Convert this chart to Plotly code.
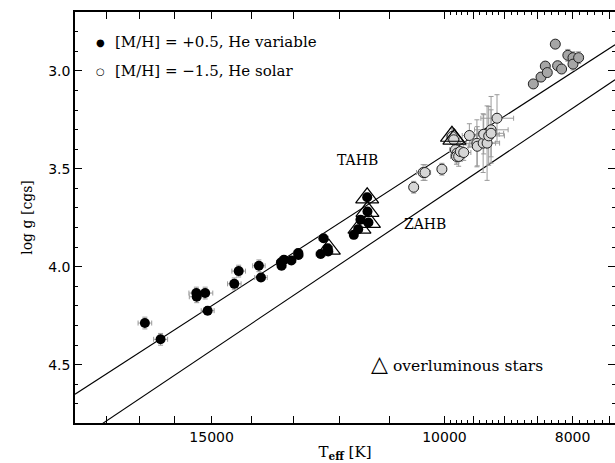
import numpy as np
import plotly.graph_objects as go

# ---------------- data ----------------
# [M/H] = +0.5, He variable (filled)
filled_T = [16850, 16395, 15405, 15395, 15170, 15105, 14420, 14310, 13815, 13765,
            13295, 13280, 13225, 13055, 12900, 12895, 12405, 12345, 12255, 12245,
            11710, 11620, 11575, 11440, 11435, 11415]
filled_g = [4.287, 4.370, 4.134, 4.153, 4.134, 4.224, 4.087, 4.022, 3.995, 4.055,
            3.978, 3.995, 3.964, 3.968, 3.930, 3.940, 3.935, 3.854, 3.905, 3.922,
            3.837, 3.808, 3.760, 3.645, 3.718, 3.774]
filled_dT = [200, 200, 200, 200, 200, 170, 170, 170, 150, 150,
             100, 100, 100, 100, 100, 100, 100, 100, 100, 100,
             80, 80, 80, 80, 80, 80]
filled_dg = [0.03, 0.03, 0.03, 0.03, 0.03, 0.02, 0.03, 0.03, 0.03, 0.02,
             0.02, 0.02, 0.02, 0.02, 0.02, 0.02, 0.02, 0.02, 0.02, 0.02,
             0.02, 0.02, 0.02, 0.02, 0.02, 0.02]

# [M/H] = -1.5, He solar (open) - middle group
open_T = [10550, 10378, 10344, 10044, 9867, 9840, 9811, 9782, 9793, 9755, 9726,
          9670, 9575, 9450, 9444, 9348, 9339, 9284, 9258, 9220, 9220, 9125]
open_g = [3.594, 3.519, 3.519, 3.502, 3.335, 3.352, 3.403, 3.420, 3.437, 3.437, 3.412,
          3.417, 3.330, 3.370, 3.385, 3.369, 3.324, 3.369, 3.332, 3.301, 3.319, 3.242]
open_dT = [80, 120, 100, 80, 100, 100, 100, 100, 100, 100, 120,
           120, 120, 180, 150, 200, 250, 200, 250, 270, 200, 260]
open_dg = [0.03, 0.04, 0.04, 0.03, 0.04, 0.05, 0.04, 0.05, 0.04, 0.05, 0.05,
           0.04, 0.06, 0.12, 0.10, 0.15, 0.10, 0.19, 0.15, 0.17, 0.12, 0.12]

# [M/H] = -1.5, He solar - cool group
cool_T = [8566, 8452, 8389, 8360, 8244, 8211, 8154, 8066, 7994, 7994, 7916]
cool_g = [3.067, 3.032, 2.976, 3.009, 2.864, 2.974, 2.991, 2.921, 2.933, 2.966, 2.933]
cool_dT = [40, 40, 40, 40, 40, 40, 40, 50, 60, 60, 60]
cool_dg = [0.02, 0.02, 0.02, 0.02, 0.02, 0.02, 0.02, 0.03, 0.03, 0.03, 0.03]

# overluminous stars
tri_T = [12230, 11595, 11440, 11435, 11405, 9870, 9828]
tri_g = [3.910, 3.803, 3.648, 3.717, 3.773, 3.334, 3.349]

# model lines
tahb_T = [19030, 7430]
tahb_g = [4.650, 2.867]
zahb_T = [19030, 7430]
zahb_g = [4.894, 3.046]

# axis ticks
x_major = [19000, 18000, 17000, 16000, 15000, 14000, 13000, 12000, 11000,
           10000, 9500, 9000, 8500, 8000, 7500]
x_labels = {15000: "15000", 10000: "10000", 8000: "8000"}
x_minor = [t for t in range(7500, 10000, 100) if t % 500 != 0]
y_major = [3.0, 3.5, 4.0, 4.5]
y_labels = ["3.0", "3.5", "4.0", "4.5"]
y_minor = [round(v, 1) for v in np.arange(2.7, 4.81, 0.1) if round(v * 10) % 5 != 0]

# ---------------- figure ----------------
W, H = 615, 463
L, R, T, B = 75, 0, 12, 40
pw, ph = W - L - R, H - T - B
XR = [np.log10(19030), np.log10(7430)]
YR = [4.797, 2.7]


def px(x):
    return (x - L) / pw


def py(y):
    return (H - B - y) / ph


fig = go.Figure()
err_col = "#9a9a9a"

fig.add_trace(go.Scatter(x=zahb_T, y=zahb_g, mode="lines",
                         line=dict(color="black", width=1.1), showlegend=False, hoverinfo="skip"))
fig.add_trace(go.Scatter(x=tahb_T, y=tahb_g, mode="lines",
                         line=dict(color="black", width=1.1), showlegend=False, hoverinfo="skip"))

fig.add_trace(go.Scatter(
    x=open_T, y=open_g, mode="markers", showlegend=False,
    error_x=dict(type="data", array=open_dT, color=err_col, thickness=1, width=2.5),
    error_y=dict(type="data", array=open_dg, color=err_col, thickness=1, width=2.5),
    marker=dict(symbol="circle", size=10, color="#d6d6d6", line=dict(color="#222", width=1))))
fig.add_trace(go.Scatter(
    x=cool_T, y=cool_g, mode="markers", showlegend=False,
    error_x=dict(type="data", array=cool_dT, color=err_col, thickness=1, width=2.5),
    error_y=dict(type="data", array=cool_dg, color=err_col, thickness=1, width=2.5),
    marker=dict(symbol="circle", size=10, color="#a6a6a6", line=dict(color="#222", width=1))))
fig.add_trace(go.Scatter(
    x=filled_T, y=filled_g, mode="markers", showlegend=False,
    error_x=dict(type="data", array=filled_dT, color=err_col, thickness=1, width=2.5),
    error_y=dict(type="data", array=filled_dg, color=err_col, thickness=1, width=2.5),
    marker=dict(symbol="circle", size=10, color="black", line=dict(color="black", width=0))))
fig.add_trace(go.Scatter(
    x=tri_T, y=tri_g, mode="markers", showlegend=False,
    marker=dict(symbol="triangle-up-open", size=20, color="black", line=dict(color="black", width=1.2))))

tickfont = dict(family="DejaVu Sans", size=14, color="black")
axcommon = dict(showline=True, linecolor="black", linewidth=1.6, mirror="ticks",
                ticks="inside", tickcolor="black", tickwidth=1, ticklen=7,
                showgrid=False, zeroline=False, tickfont=tickfont)

fig.update_layout(
    xaxis=dict(type="log", range=XR, autorange=False,
               tickmode="array", tickvals=x_major,
               ticktext=[x_labels.get(v, "") for v in x_major],
               minor=dict(tickvals=x_minor, ticks="inside", ticklen=3.5, tickcolor="black", tickwidth=1,
                          showgrid=False),
               title=dict(text="T<sub><b>eff</b></sub> [K]",
                          font=dict(family="DejaVu Serif", size=15, color="black"), standoff=3),
               **axcommon),
    yaxis=dict(range=YR, autorange=False, tickmode="array", tickvals=y_major, ticktext=y_labels,
               minor=dict(tickvals=y_minor, ticks="inside", ticklen=3.5, tickcolor="black", tickwidth=1,
                          showgrid=False),
               title=dict(text="log g [cgs]",
                          font=dict(family="DejaVu Serif", size=14, color="black"), standoff=12),
               **axcommon),
)

serif = dict(family="DejaVu Serif", size=15, color="black")
serif14 = dict(family="DejaVu Serif", size=14, color="black")
anns = [
    dict(x=px(100), y=py(42), text="●", font=dict(family="DejaVu Sans", size=10, color="black"),
         xanchor="center", yanchor="middle"),
    dict(x=px(113), y=py(42), text="[M/H] = +0.5, He variable", font=serif,
         xanchor="left", yanchor="middle"),
    dict(x=px(100), y=py(71), text="○", font=dict(family="DejaVu Sans", size=10, color="black"),
         xanchor="center", yanchor="middle"),
    dict(x=px(113), y=py(71), text="[M/H] = \u22121.5, He solar", font=serif,
         xanchor="left", yanchor="middle"),
    dict(x=px(357), y=py(160), text="TAHB", font=serif14, xanchor="center", yanchor="middle"),
    dict(x=px(425), y=py(224), text="ZAHB", font=serif14, xanchor="center", yanchor="middle"),
    dict(x=px(379), y=py(363), text="△", font=dict(family="DejaVu Sans", size=22, color="black"),
         xanchor="center", yanchor="middle"),
    dict(x=px(391), y=py(366), text="overluminous stars", font=dict(family="DejaVu Serif", size=15.5,
                                                                    color="black"),
         xanchor="left", yanchor="middle"),
]
for a in anns:
    a.update(xref="paper", yref="paper", showarrow=False)

fig.update_layout(width=W, height=H, margin=dict(l=L, r=R, t=T, b=B, autoexpand=False),
                  plot_bgcolor="white", paper_bgcolor="white", showlegend=False,
                  annotations=anns)

fig.write_html("out.html")
